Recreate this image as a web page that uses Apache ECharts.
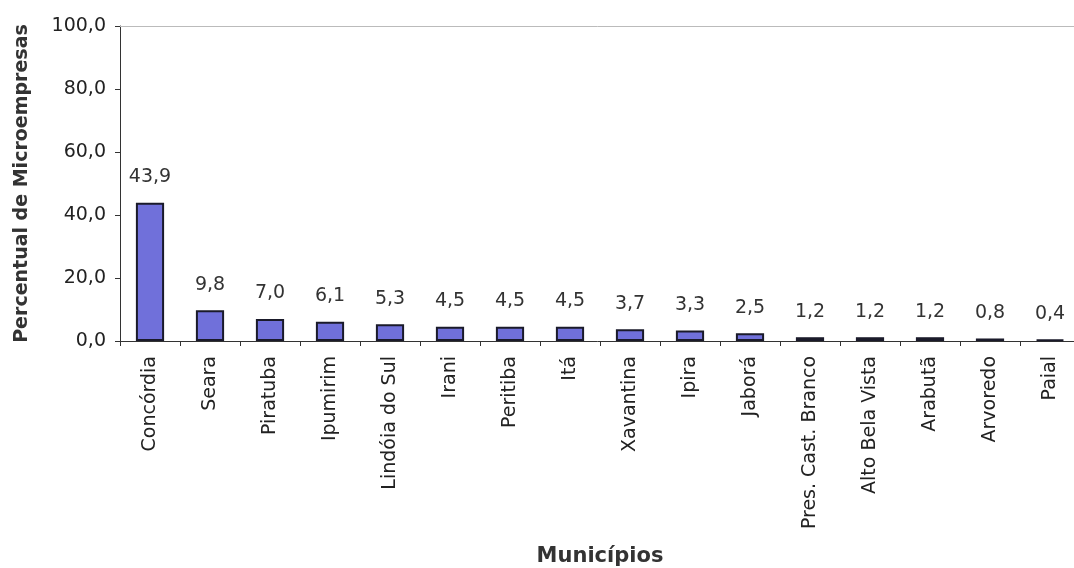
<!DOCTYPE html>
<html><head><meta charset="utf-8">
<script src="https://cdn.jsdelivr.net/npm/echarts@6/dist/echarts.min.js"></script>
<style>html,body{margin:0;padding:0;background:#fff}#c{width:1074px;height:568px}</style>
</head><body><div id="c"></div>
<script>
var categories = ["Concórdia","Seara","Piratuba","Ipumirim","Lindóia do Sul","Irani","Peritiba","Itá","Xavantina","Ipira","Jaborá","Pres. Cast. Branco","Alto Bela Vista","Arabutã","Arvoredo","Paial"];
var values = [43.9,9.8,7.0,6.1,5.3,4.5,4.5,4.5,3.7,3.3,2.5,1.2,1.2,1.2,0.8,0.4];
var yTicks = [0,20,40,60,80,100];
var fmt = function(v){ return Number(v).toFixed(1).replace('.', ','); };
var chart = echarts.init(document.getElementById('c'));
var font = '"DejaVu Sans", sans-serif';
chart.setOption({
  animation:false,
  grid:{left:120,right:-6,top:26,bottom:227,containLabel:false,outerBoundsMode:'none'},
  xAxis:[{
    type:'category', data:categories,
    axisLine:{lineStyle:{color:'#333',width:1}},
    axisTick:{show:true,inside:false,length:5,lineStyle:{color:'#333'}},
    axisLabel:{rotate:90,fontFamily:font,fontSize:19,color:'#222',margin:15,interval:0},
    name:'Municípios', nameLocation:'middle', nameGap:205,
    nameTextStyle:{fontFamily:font,fontSize:21,fontWeight:'bold',color:'#333'}
  },{
    type:'category', data:categories, position:'top',
    axisLine:{lineStyle:{color:'#bbb',width:1}},
    axisTick:{show:false}, axisLabel:{show:false}
  }],
  yAxis:{
    type:'value', min:yTicks[0], max:yTicks[yTicks.length-1], interval:20,
    axisLine:{show:true,lineStyle:{color:'#333'}},
    axisTick:{show:true,length:5,lineStyle:{color:'#333'}},
    splitLine:{show:false},
    axisLabel:{formatter:fmt,fontFamily:font,fontSize:19,color:'#222',margin:14},
    name:'Percentual de Microempresas', nameLocation:'middle', nameGap:88, nameRotate:90,
    nameTextStyle:{fontFamily:font,fontSize:19,fontWeight:'bold',color:'#333'}
  },
  series:[{
    type:'bar', data:values, barWidth:'47%',
    itemStyle:{color:'#7070da',borderColor:'#1a1a2a',borderWidth:2},
    label:{show:true,position:'top',distance:16,formatter:function(p){return fmt(p.value);},
      fontFamily:font,fontSize:19,color:'#333'}
  }]
});
</script></body></html>
